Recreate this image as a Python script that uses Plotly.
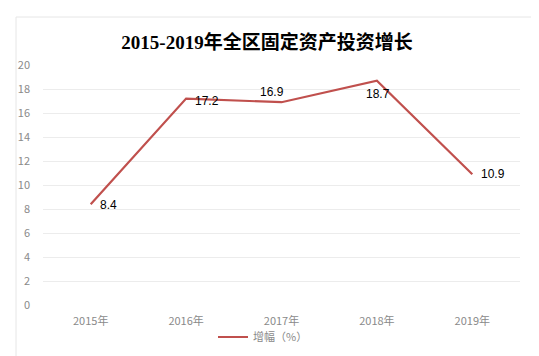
import plotly.graph_objects as go

years = ["2015年", "2016年", "2017年", "2018年", "2019年"]
growth = [8.4, 17.2, 16.9, 18.7, 10.9]
y_ticks = [0, 2, 4, 6, 8, 10, 12, 14, 16, 18, 20]
# label offsets in pixels (x, y) relative to each point
label_dx = [18, 21, -10, 1, 21]
label_dy = [-1, -2, 10, -13, 0]

# the page body adds an 8px offset; size the figure so it fits the window
W, H = 531, 348

fig = go.Figure()
fig.add_trace(go.Scatter(
    x=years, y=growth, mode="lines", name="增幅（%）",
    line=dict(color="#C0504D", width=2.2),
))

annotations = []
for yr, v, dx, dy in zip(years, growth, label_dx, label_dy):
    annotations.append(dict(x=yr, y=v, xref="x", yref="y", text=str(v), showarrow=False,
                            xshift=dx, yshift=dy,
                            font=dict(family="Liberation Sans, Arial, sans-serif", size=12, color="#000000")))

fig.update_layout(
    width=W, height=H,
    margin=dict(l=35, r=19, t=57, b=51, autoexpand=False),
    paper_bgcolor="white", plot_bgcolor="white",
    title=dict(text="<b>2015-2019年全区固定资产投资增长</b>", x=(267 - 8) / W, xanchor="center",
               y=1 - 34 / H, yanchor="middle",
               font=dict(family="Liberation Serif, 'Noto Sans CJK SC', serif", size=19, color="#000000")),
    xaxis=dict(range=[-0.5, 4.5], showgrid=False, showline=False, zeroline=False, ticks="",
               automargin=False, ticklabelstandoff=8,
               tickfont=dict(family="'Noto Sans CJK SC', sans-serif", size=11, color="#8a8a8a")),
    yaxis=dict(range=[0, 20], tickvals=y_ticks, showgrid=True, gridcolor="#ececec", gridwidth=1,
               zeroline=False, showline=False, ticks="", ticklabelstandoff=12, automargin=False,
               tickfont=dict(family="'Noto Sans CJK SC', sans-serif", size=11, color="#8a8a8a")),
    showlegend=True,
    legend=dict(orientation="h", xref="container", yref="container",
                x=(213 - 8) / W, xanchor="left", y=1 - 329 / H, yanchor="middle",
                font=dict(family="'Noto Sans CJK SC', sans-serif", size=11, color="#8a8a8a"),
                bgcolor="rgba(0,0,0,0)"),
    annotations=annotations,
    shapes=[dict(type="rect", xref="paper", yref="paper",
                 x0=(16 - 43) / 477, x1=(535 - 43) / 477, y0=-0.25, y1=(305 - 17) / 240,
                 line=dict(color="#e6e6e6", width=1), layer="below")],
)

fig.write_html("out.html")
